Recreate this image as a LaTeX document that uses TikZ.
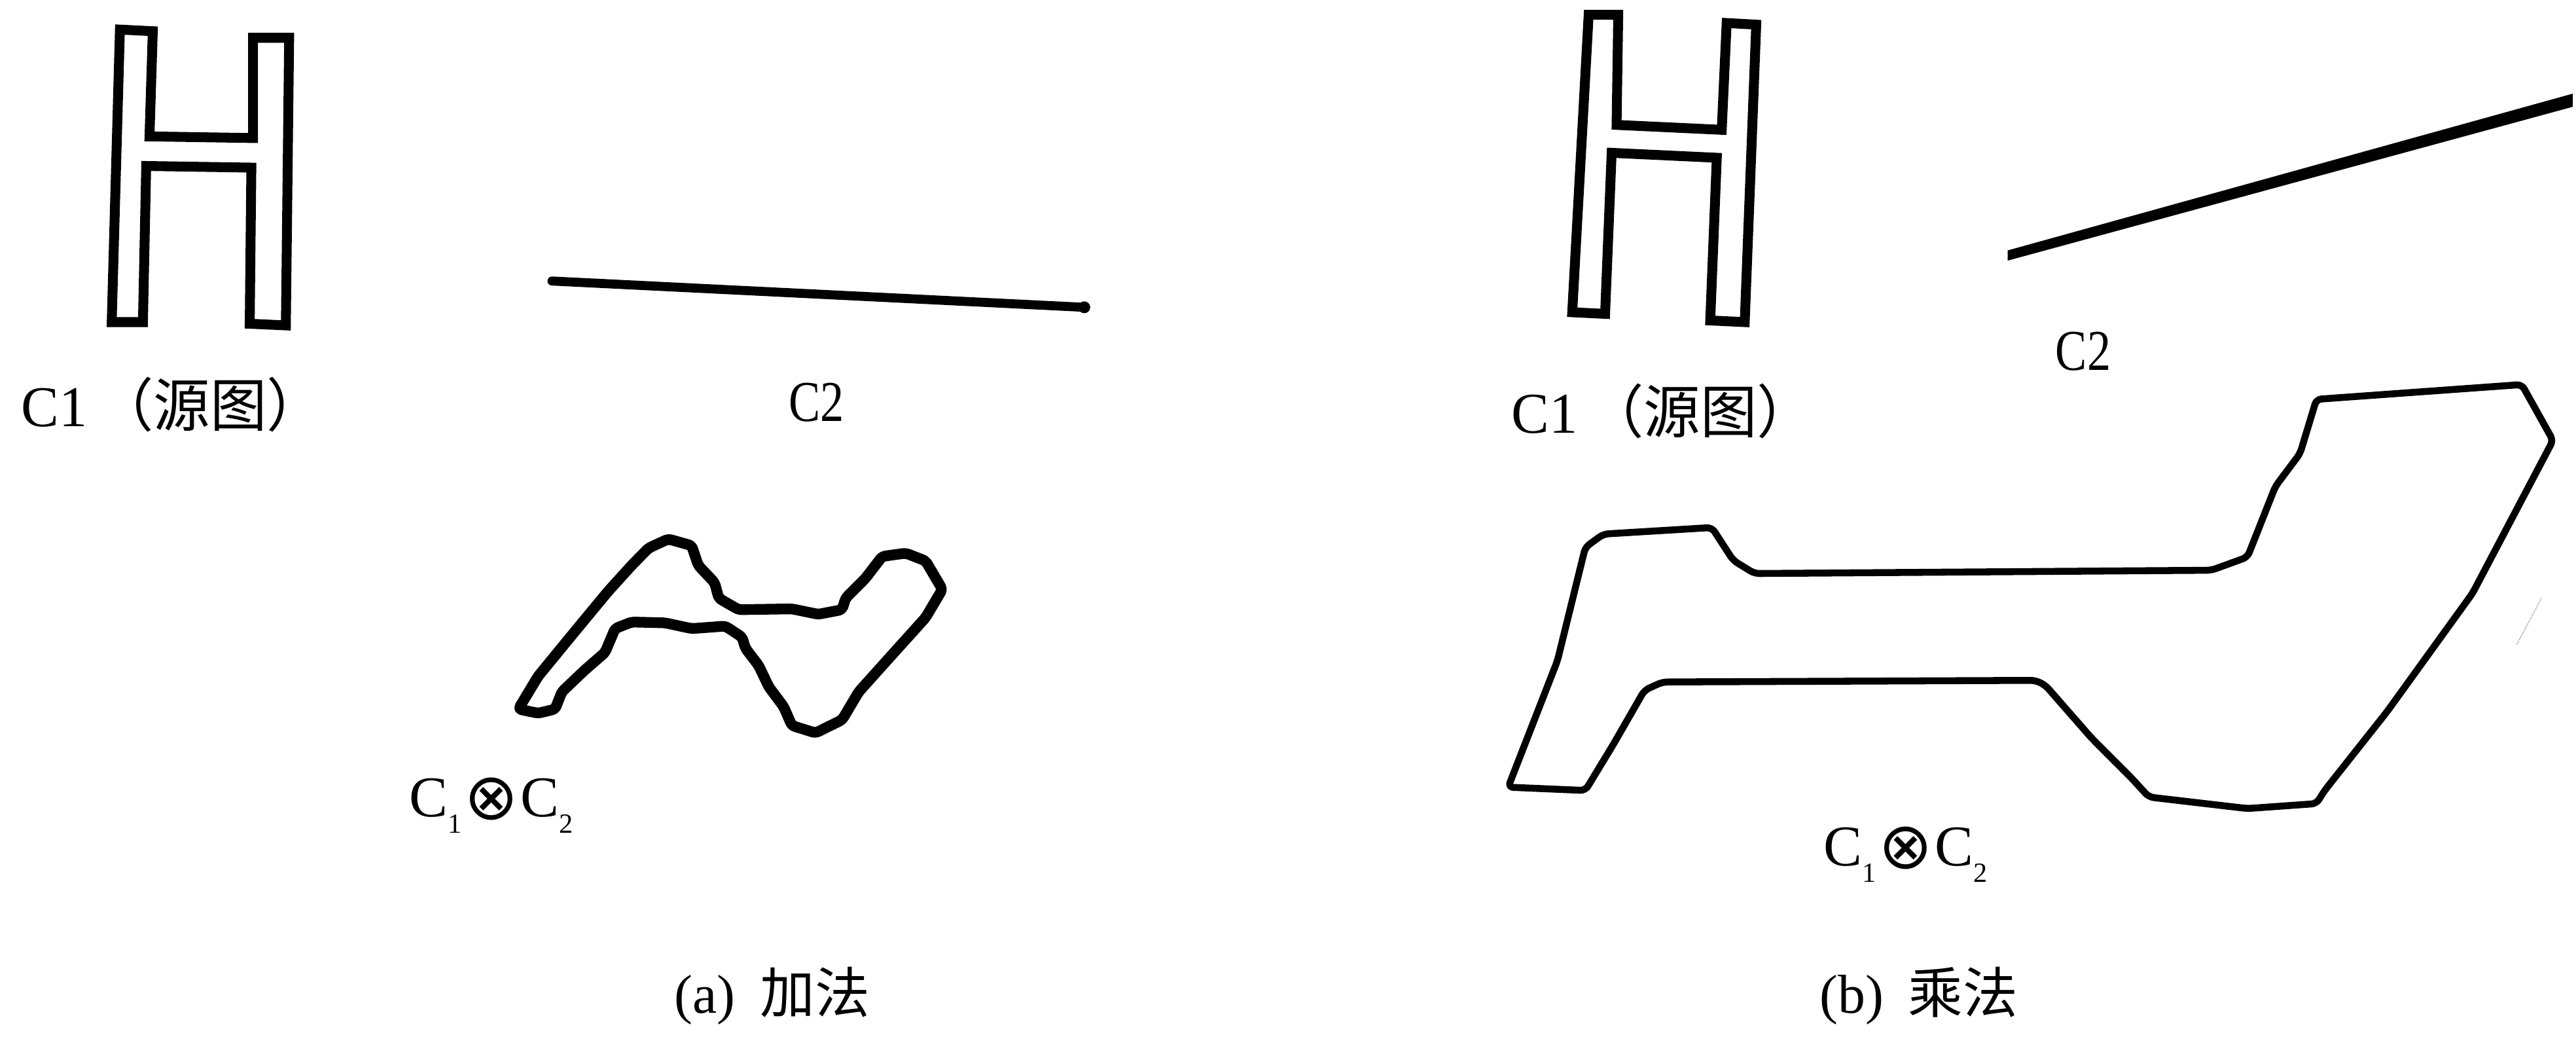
\documentclass[tikz,border=0pt]{standalone}
\usepackage{fontspec}
\setmainfont{Liberation Serif}
\newfontfamily\cjk{Noto Sans CJK SC}
\newfontfamily\symf{DejaVu Sans}
\usetikzlibrary{calc}
\newcommand{\myprod}{C\raisebox{-0.28em}{\fontsize{48}{48}\selectfont 1}\hspace{0.04em}\raisebox{-0.04em}{\symf\fontsize{112}{112}\selectfont ⊗}\hspace{0.04em}C\raisebox{-0.28em}{\fontsize{48}{48}\selectfont 2}}
\begin{document}
\begin{tikzpicture}[x=1mm,y=-1mm,
  hshape/.style={line width=6mm, line join=miter},
  ashape/.style={line width=6.5mm, line join=round, rounded corners=2mm},
  bshape/.style={line width=4.2mm, line join=round, rounded corners=3mm},
  lbl/.style={inner sep=0pt, font=\fontsize{100}{110}\selectfont},
  captext/.style={inner sep=0pt, font=\fontsize{95}{105}\selectfont}]
\useasboundingbox[fill=white] (0,0) rectangle (1568,631);

% ---------- (a) ----------
\draw[hshape] (73,18) -- (93,19) -- (91,83) -- (154,84) -- (154,23) -- (176,23)
  -- (174,198) -- (152,197) -- (153,102) -- (89,101) -- (87,196) -- (68,196) -- cycle;
\node[lbl] (c1a) at (105,246) {\scalebox{0.98}[1]{C1\,{\cjk（源图）}}};

\coordinate (la1) at (336,171);
\coordinate (la2) at (660,187);
\draw[line width=5.5mm, line cap=round] (la1) -- (la2);
\fill (la2) circle (3.6);
\node[lbl] (c2a) at (497,245) {\scalebox{0.82}[1]{C2}};

\draw[ashape] (315.5,431.5) -- (327.5,411.6) -- (343.8,391.7) -- (358,374.5) -- (370,360)
  -- (384.5,344) -- (394.8,333.5) -- (406.8,328) -- (421,332) -- (425,344) -- (435,354.6)
  -- (437.5,364) -- (449.6,371) -- (482,370.5) -- (498,373.8) -- (512.6,371) -- (514.7,364)
  -- (526.7,352) -- (537,338.6) -- (551.3,336.6) -- (563.4,341.3) -- (573.6,358.6)
  -- (563.4,375.8) -- (543,398.4) -- (522.7,421) -- (512.6,438) -- (496.4,446) -- (482,441.5)
  -- (477,430) -- (468,418) -- (461.8,405) -- (453.7,394.4) -- (451.7,387.7) -- (441.5,381)
  -- (421,382.5) -- (404.8,379) -- (384.5,378.5) -- (374.4,382.5) -- (368.3,397) -- (356,407.7)
  -- (342,421) -- (337.9,431.5) -- (327.6,434) -- cycle;
\node[lbl] (proda) at (299,490) {\myprod};

\node[captext] (capa) at (470,606) {(a)\hspace{0.45em}{\cjk 加法}};

% ---------- (b) ----------
\draw[hshape] (967,9) -- (985,9) -- (984,76) -- (1048,79) -- (1051,14) -- (1069,15)
  -- (1062,196) -- (1041,195) -- (1045,96) -- (981,93) -- (977,191) -- (957,190) -- cycle;
\node[lbl] (c1b) at (1012,250) {\scalebox{0.98}[1]{C1\,{\cjk（源图）}}};

\coordinate (lb1) at (1222,156);
\coordinate (lb2) at (1566,61);
\fill (lb1) -- ($(lb1)+(0,-3.6)$) -- ($(lb2)+(0,-4.0)$) -- ($(lb2)+(0,4.0)$) -- ($(lb1)+(0,2.6)$) -- cycle;
\node[lbl] (c2b) at (1268,214) {\scalebox{0.82}[1]{C2}};

\draw[bshape] (1410,243) -- (1535,234) -- (1554,268) -- (1505,361) -- (1453,433) -- (1415,481)
  -- (1410,489) -- (1368,492) -- (1308,485) -- (1297,473) -- (1273,449) -- (1245,417)
  -- (1239,414) -- (1012,415) -- (1001,420) -- (982,453) -- (965,481) -- (918,479)
  -- (948,402) -- (965,333) -- (976,325) -- (1042,321) -- (1055,341) -- (1068,349)
  -- (1346,347) -- (1368,339) -- (1385,296) -- (1400,276) -- cycle;
\coordinate (sm1) at (1532,392);
\coordinate (sm2) at (1547,364);
\draw[gray!60, line width=0.8mm, dotted] (sm1) -- (sm2);
\node[lbl] (prodb) at (1160,520) {\myprod};

\node[captext] (capb) at (1168,606) {(b)\hspace{0.45em}{\cjk 乘法}};
\end{tikzpicture}
\end{document}
